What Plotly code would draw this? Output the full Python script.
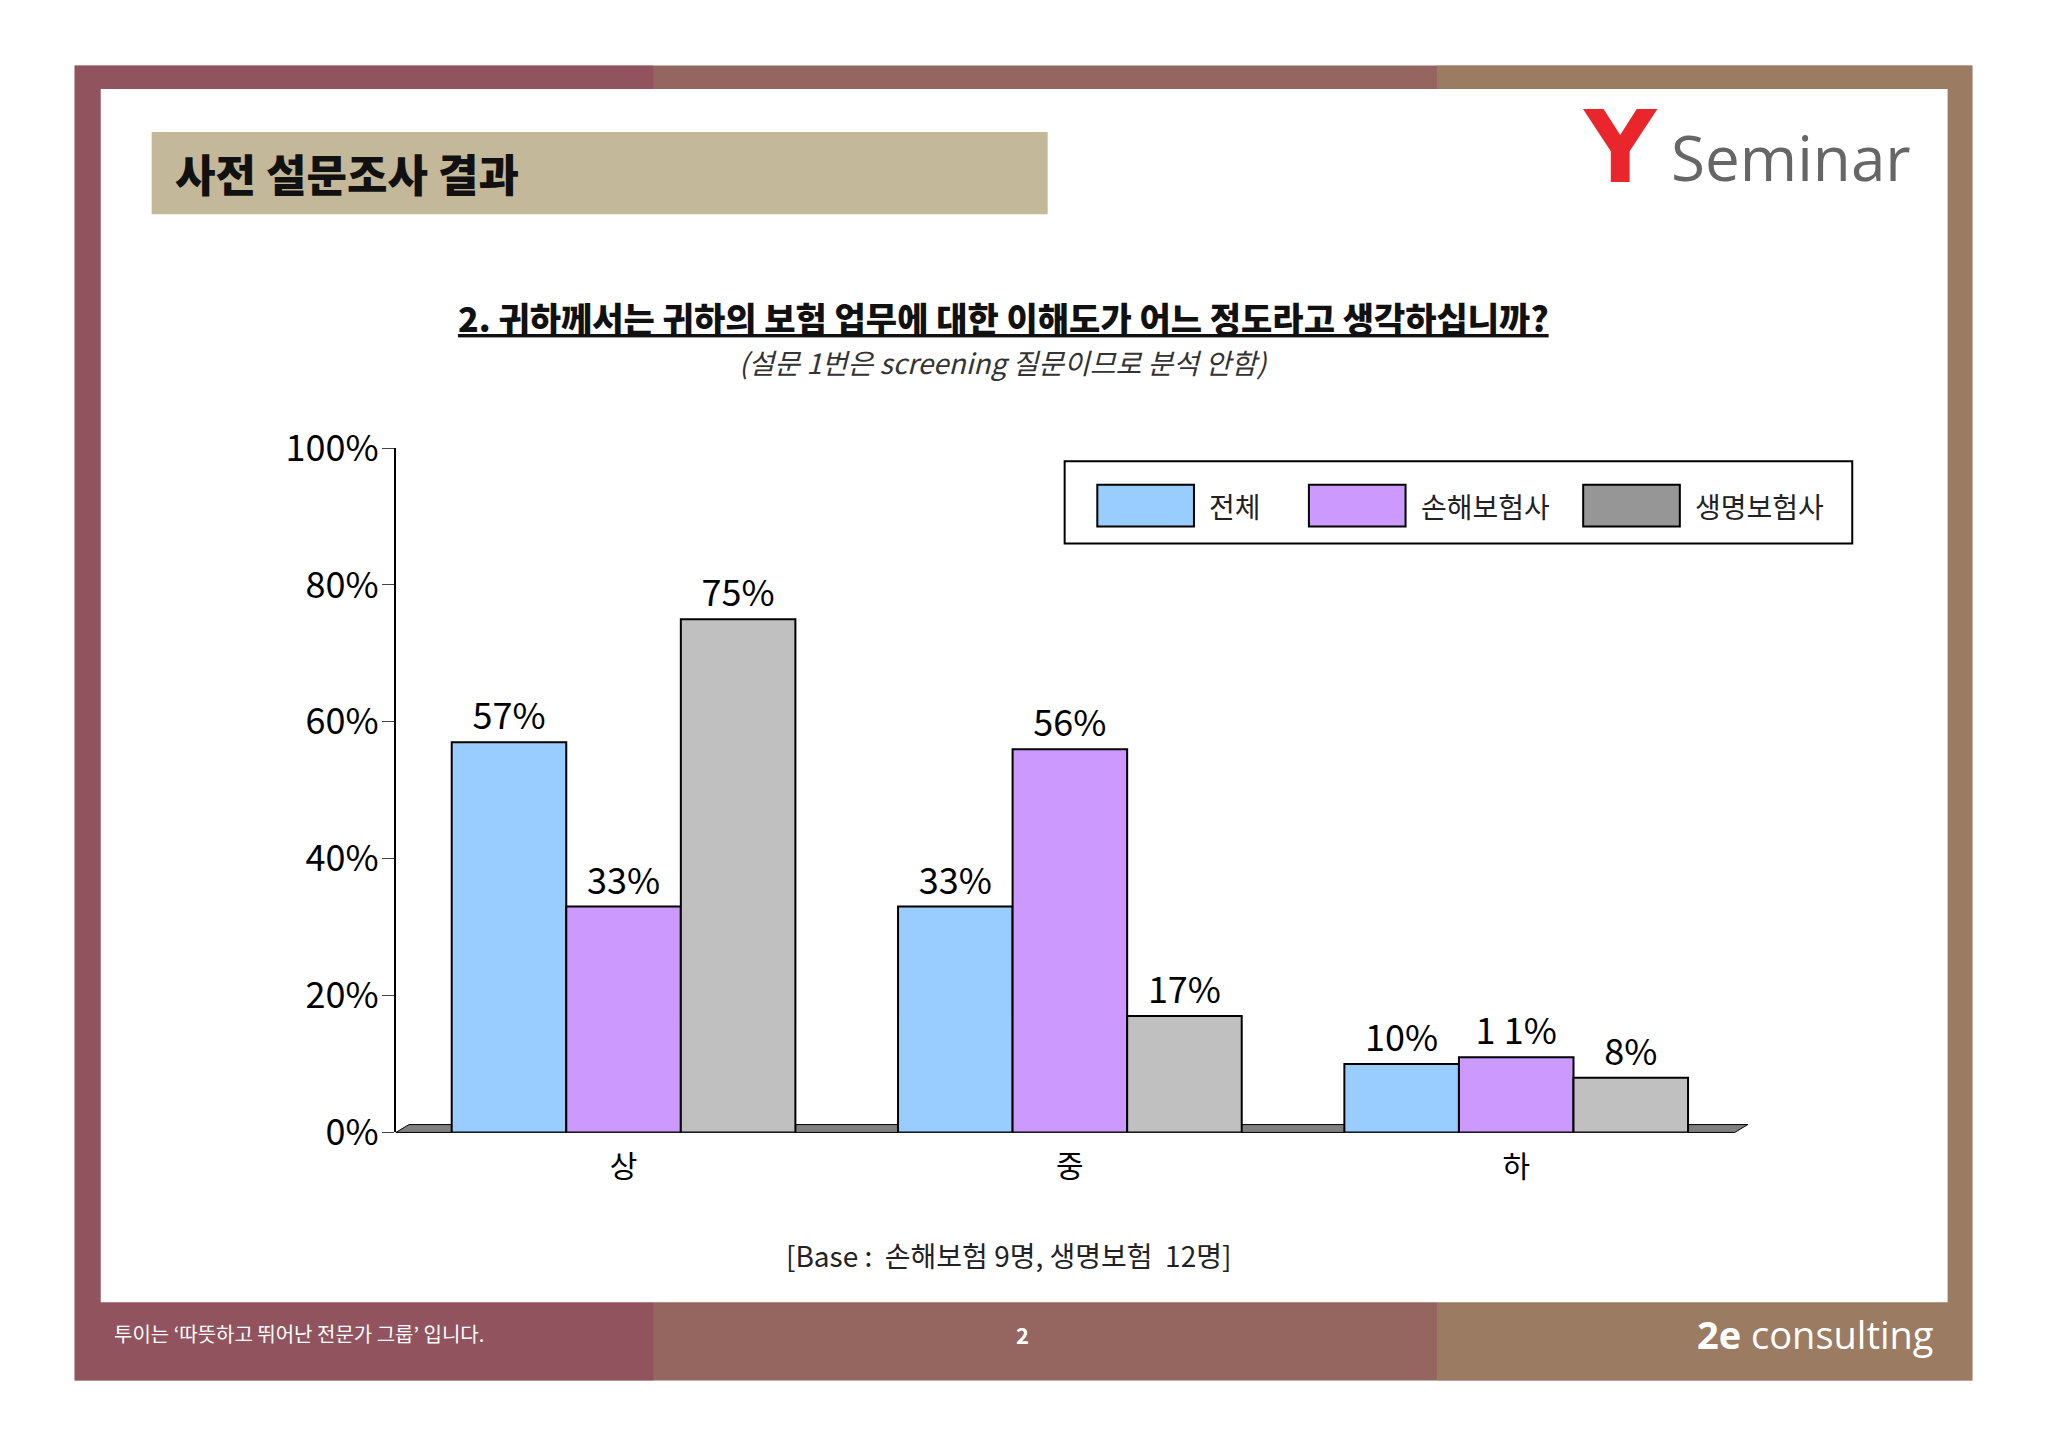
import plotly.graph_objects as go

categories = ["상", "중", "하"]
series_names = ["전체", "손해보험사", "생명보험사"]
total = [57, 33, 10]
nonlife = [33, 56, 11]
life = [75, 17, 8]
labels_total = ["57%", "33%", "10%"]
labels_nonlife = ["33%", "56%", "1 1%"]
labels_life = ["75%", "17%", "8%"]

fill_colors = ["#99CCFF", "#CC99FF", "#C0C0C0"]
legend_colors = ["#99CCFF", "#CC99FF", "#969696"]
FONT = "Noto Sans CJK KR"

fig = go.Figure()
for name, vals, labs, fc in zip(series_names, [total, nonlife, life],
                                [labels_total, labels_nonlife, labels_life], fill_colors):
    fig.add_trace(go.Bar(
        x=categories, y=vals, name=name, text=labs, textposition="outside",
        textfont=dict(size=36, color="black", family=FONT),
        marker=dict(color=fc, line=dict(color="black", width=2)),
        cliponaxis=False, showlegend=False,
    ))

W, H = 1568, 1108
DX, DY = -6, -6  # small global nudge
def fx(px): return (px + DX) / W
def fy(py): return 1 - (py + DY) / H

shapes = [
    dict(type="rect", xref="paper", yref="paper", x0=fx(57), x1=fx(1510), y0=fy(1057), y1=fy(50),
         fillcolor="#956560", line=dict(width=0), layer="below"),
    dict(type="rect", xref="paper", yref="paper", x0=fx(57), x1=fx(500), y0=fy(1057), y1=fy(50),
         fillcolor="#8f4a5e", line=dict(width=0), layer="below", opacity=0.6),
    dict(type="rect", xref="paper", yref="paper", x0=fx(1100), x1=fx(1510), y0=fy(1057), y1=fy(50),
         fillcolor="#a08a62", line=dict(width=0), layer="below", opacity=0.6),
    dict(type="rect", xref="paper", yref="paper", x0=fx(77), x1=fx(1491), y0=fy(997), y1=fy(68),
         fillcolor="white", line=dict(width=0), layer="below"),
    dict(type="rect", xref="paper", yref="paper", x0=fx(116), x1=fx(802), y0=fy(164), y1=fy(101),
         fillcolor="#C4B89A", line=dict(width=0), layer="below"),
    dict(type="path", xref="paper", yref="paper",
         path=f"M {fx(303)},{fy(867)} L {fx(313)},{fy(861)} L {fx(1338)},{fy(861)} L {fx(1328)},{fy(867)} Z",
         fillcolor="#808080", line=dict(color="black", width=1), layer="below"),
    dict(type="rect", xref="paper", yref="paper", x0=fx(815), x1=fx(1418), y0=fy(416), y1=fy(353),
         fillcolor="white", line=dict(color="black", width=2)),
]

ann = [
    dict(x=fx(132), y=fy(132), text="사전 설문조사 결과", xanchor="left",
         font=dict(size=44, color="#111", family=FONT, weight=900)),
    dict(x=fx(1210), y=fy(113), text="<b>Y</b>", xanchor="left",
         font=dict(size=100, color="#E8262C", family="DejaVu Sans")),
    dict(x=fx(1278), y=fy(120), text="Seminar", xanchor="left",
         font=dict(size=62, color="#666", family="Open Sans")),
    dict(x=fx(768), y=fy(243), text="<u>2. 귀하께서는 귀하의 보험 업무에 대한 이해도가 어느 정도라고 생각하십니까?</u>",
         font=dict(size=34, color="#111", family=FONT, weight=900)),
    dict(x=fx(768), y=fy(277), text="<i>(설문 1번은 screening 질문이므로 분석 안함)</i>",
         font=dict(size=28, color="#333", family=FONT)),
    dict(x=fx(772), y=fy(961), text="[Base :  손해보험 9명, 생명보험  12명]",
         font=dict(size=28, color="#222", family=FONT)),
    dict(x=fx(86), y=fy(1021), text="투이는 ‘따뜻하고 뛰어난 전문가 그룹’ 입니다.", xanchor="left",
         font=dict(size=20, color="white", family=FONT)),
    dict(x=fx(783), y=fy(1021), text="<b>2</b>",
         font=dict(size=22, color="white", family=FONT)),
    dict(x=fx(1482), y=fy(1021), text="<b>2e</b> consulting", xanchor="right",
         font=dict(size=38, color="white", family="Open Sans")),
]

leg_x = [840, 1002, 1212]
for name, col, lx in zip(series_names, legend_colors, leg_x):
    shapes.append(dict(type="rect", xref="paper", yref="paper", x0=fx(lx), x1=fx(lx + 74),
                       y0=fy(403), y1=fy(371), fillcolor=col, line=dict(color="black", width=2)))
    ann.append(dict(x=fx(lx + 84), y=fy(387), text=name, xanchor="left",
                    font=dict(size=28, color="#222", family=FONT)))

for a in ann:
    a.update(xref="paper", yref="paper", showarrow=False, yanchor="middle")

fig.update_layout(
    width=2048, height=1447, margin=dict(l=0, r=0, t=0, b=0, autoexpand=False),
    paper_bgcolor="white", plot_bgcolor="rgba(0,0,0,0)",
    barmode="group", bargap=0.23, bargroupgap=0,
    font=dict(family=FONT, color="black"),
    shapes=shapes, annotations=ann, showlegend=False,
    xaxis=dict(domain=[fx(303), fx(1335)], range=[-0.51, 2.51], showline=False,
               tickfont=dict(size=30, family=FONT), ticks="", ticklabelstandoff=14,
               automargin=False),
    yaxis=dict(domain=[fy(867), fy(343)], range=[0, 100], tickvals=[0, 20, 40, 60, 80, 100],
               ticktext=["0%", "20%", "40%", "60%", "80%", "100%"], showgrid=False,
               showline=True, linecolor="black", linewidth=2, ticks="outside", ticklen=12,
               ticklabelstandoff=-4,
               tickfont=dict(size=36, family=FONT), zeroline=False, automargin=False),
)
fig.write_html("out.html")
